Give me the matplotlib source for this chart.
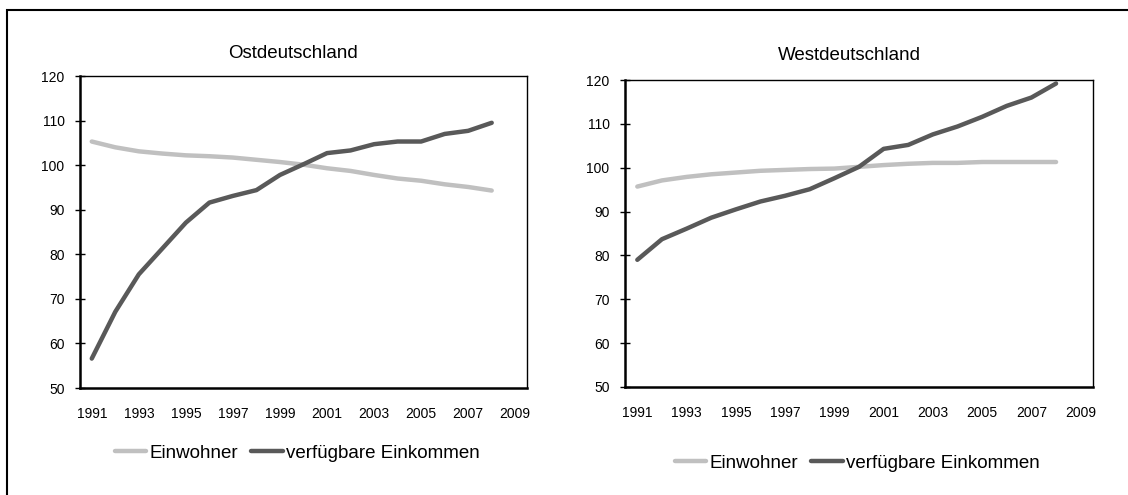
import matplotlib
matplotlib.use("Agg")
import matplotlib.pyplot as plt
from matplotlib.patches import Rectangle

plt.rcParams['font.family'] = ['Liberation Sans', 'DejaVu Sans']

years = list(range(1991, 2009))
year_ticks = list(range(1991, 2010, 2))
y_ticks = list(range(50, 121, 10))

# Ostdeutschland
ost_einwohner = [105.3, 104.0, 103.1, 102.6, 102.2, 102.0, 101.7, 101.2, 100.7,
                 100.1, 99.3, 98.7, 97.8, 97.0, 96.5, 95.7, 95.1, 94.3]
ost_einkommen = [56.6, 67.1, 75.5, 81.3, 87.1, 91.6, 93.1, 94.4, 97.8,
                 100.2, 102.7, 103.3, 104.7, 105.3, 105.3, 107.0, 107.7, 109.5]

# Westdeutschland
west_einwohner = [95.7, 97.1, 97.9, 98.5, 98.9, 99.3, 99.5, 99.7, 99.8,
                  100.2, 100.6, 100.9, 101.1, 101.1, 101.3, 101.3, 101.3, 101.3]
west_einkommen = [79.0, 83.7, 86.1, 88.6, 90.5, 92.3, 93.6, 95.1, 97.6,
                  100.2, 104.3, 105.2, 107.6, 109.4, 111.6, 114.1, 116.0, 119.2]

labels = ["Einwohner", "verfügbare Einkommen"]
col_light = '#c0c0c0'
col_dark = '#595959'


def draw(ax, einwohner, einkommen, title, title_x, title_y, leg_x, leg_y, fig):
    l1, = ax.plot(years, einwohner, color=col_light, lw=3.2,
                  solid_capstyle='round', solid_joinstyle='round')
    l2, = ax.plot(years, einkommen, color=col_dark, lw=3.2,
                  solid_capstyle='round', solid_joinstyle='round')
    ax.set_xlim(1990.5, 2009.5)
    ax.set_ylim(50, 120)
    ax.set_xticks(year_ticks)
    ax.set_yticks(y_ticks)
    ax.tick_params(axis='x', length=0, pad=13.5, labelsize=10)
    ax.tick_params(axis='y', direction='inout', length=7.2, width=1,
                   pad=7.5, labelsize=10)
    for side in ['left', 'bottom']:
        ax.spines[side].set_linewidth(1.8)
    for side in ['top', 'right']:
        ax.spines[side].set_linewidth(1.0)
    fig.text(title_x, title_y, title, ha='center', va='center', fontsize=13.5)
    fig.legend([l1, l2], labels, loc='center', bbox_to_anchor=(leg_x, leg_y),
               ncol=2, frameon=False, fontsize=13.5, handlelength=1.7,
               handletextpad=0.15, columnspacing=0.7)


def main():
    W, H = 1128, 495
    fig = plt.figure(figsize=(W / 100, H / 100), dpi=100)

    ax1 = fig.add_axes([80 / W, (H - 388) / H, 447 / W, 312 / H])
    ax2 = fig.add_axes([625 / W, (H - 387) / H, 468 / W, 307 / H])

    draw(ax1, ost_einwohner, ost_einkommen, "Ostdeutschland",
         293 / W, 1 - 53 / H, 297 / W, 1 - 453 / H, fig)
    draw(ax2, west_einwohner, west_einkommen, "Westdeutschland",
         849 / W, 1 - 55 / H, 857 / W, 1 - 463 / H, fig)

    # outer frame (only left and top edges fall inside the picture)
    fig.patches.append(Rectangle((7 / W, -0.2), 1.2, (H - 10) / H + 0.2,
                                 transform=fig.transFigure, fill=False,
                                 edgecolor='black', lw=1.5))

    fig.savefig("out.png", dpi=100)


if __name__ == "__main__":
    main()
